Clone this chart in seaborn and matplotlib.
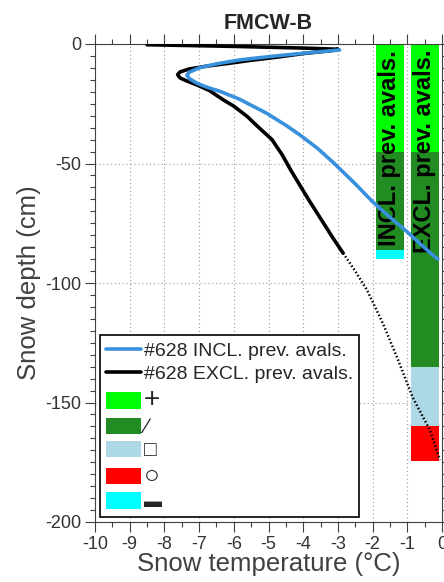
import numpy as np
import pandas as pd
import matplotlib
matplotlib.use("Agg")
import matplotlib.pyplot as plt
from matplotlib.ticker import MultipleLocator
from matplotlib.lines import Line2D
from matplotlib.patches import Patch
import seaborn as sns

# Snow temperature profiles (#628)
temp_incl = [-2.95, -3.8, -4.8, -5.8, -6.5, -7.0, -7.28, -7.35, -7.28, -7.05, -6.75, -6.4,
             -5.85, -5.05, -4.5, -4.1, -3.6, -3.14, -2.5, -2.0, -1.5, -1.05, -0.6, -0.25, -0.12]
depth_incl = [-2.5, -3.6, -5.0, -6.6, -8.3, -10.0, -11.8, -13.0, -14.5, -16.5, -18.2, -19.8,
              -23.0, -29.0, -34.0, -38.0, -43.5, -49.5, -58.5, -66.0, -72.5, -78.0, -84.0, -88.5, -90.0]

temp_excl = [-8.5, -6.0, -4.0, -3.0, -3.2, -4.0, -4.7, -5.5, -6.1, -6.8, -7.3, -7.55, -7.62,
             -7.55, -7.35, -7.05, -6.7, -6.3, -6.0, -5.6, -5.35, -4.9, -4.6, -4.35, -4.1,
             -3.85, -3.5, -3.15, -2.85]
depth_excl = [-0.3, -1.0, -1.7, -2.2, -2.8, -4.0, -5.4, -6.8, -8.0, -9.3, -10.5, -11.7, -12.8,
              -14.2, -15.5, -17.2, -19.5, -23.4, -26.0, -30.5, -34.0, -40.0, -46.5, -53.0, -59.0,
              -65.0, -73.0, -81.0, -87.5]

# dotted continuation of the EXCL profile
temp_extra = [-2.85, -2.5, -2.16, -1.7, -1.3, -0.84, -0.35, -0.06]
depth_extra = [-87.5, -95.0, -103.0, -117.0, -131.0, -148.0, -161.5, -174.0]

# layer columns
col_names = ["INCL. prev. avals.", "EXCL. prev. avals."]
col_x = [-1.5, -0.5]
incl_bounds = [0, -45, -86, -90]
incl_colors = ["#00FF00", "#228B22", "#00FFFF"]
excl_bounds = [0, -45, -135, -160, -174.5]
excl_colors = ["#00FF00", "#228B22", "#ADD8E6", "#FF0000"]

legend_colors = ["#00FF00", "#228B22", "#ADD8E6", "#FF0000", "#00FFFF"]
legend_symbols = ["+", "\u2215", "\u25A1", "\u25CB", "\u25AC"]
symbol_sizes = [20, 15, 15, 19, 13]

BLUE = "#3990DD"

sns.set_theme(style="ticks")
plt.rcParams["font.family"] = ["Liberation Sans", "DejaVu Sans"]
plt.rcParams["axes.unicode_minus"] = False

fig = plt.figure(figsize=(4.44, 5.82), dpi=100)
ax = fig.add_axes([95 / 444, 60 / 582, 347 / 444, 478 / 582])

# stacked layer bars
for x, bounds, colors in [(col_x[0], incl_bounds, incl_colors), (col_x[1], excl_bounds, excl_colors)]:
    tops = np.array(bounds[:-1])
    bots = np.array(bounds[1:])
    ax.bar([x] * len(tops), bots - tops, bottom=tops, width=0.8, color=colors,
           edgecolor="none", zorder=2)

for x, name in zip(col_x, col_names):
    ax.text(x, -2.5, name, rotation=90, ha="center", va="top", fontsize=17,
            fontweight="bold", color="black", zorder=3)

df_incl = pd.DataFrame({"temp": temp_incl, "depth": depth_incl})
df_excl = pd.DataFrame({"temp": temp_excl, "depth": depth_excl})
df_extra = pd.DataFrame({"temp": temp_extra, "depth": depth_extra})

sns.lineplot(data=df_extra, x="temp", y="depth", sort=False, estimator=None, ax=ax,
             color="black", lw=1.8, linestyle=(0, (0.6, 0.9)), zorder=4, legend=False)
sns.lineplot(data=df_excl, x="temp", y="depth", sort=False, estimator=None, ax=ax,
             color="black", lw=2.6, zorder=4, legend=False)
sns.lineplot(data=df_incl, x="temp", y="depth", sort=False, estimator=None, ax=ax,
             color=BLUE, lw=2.6, zorder=5, legend=False)

ax.set_xlim(-10, 0)
ax.set_ylim(-200, 0)
ax.xaxis.set_major_locator(MultipleLocator(1))
ax.xaxis.set_minor_locator(MultipleLocator(0.5))
ax.yaxis.set_major_locator(MultipleLocator(50))
ax.yaxis.set_minor_locator(MultipleLocator(5))
ax.tick_params(which="both", direction="out", left=True, bottom=True, top=True, right=True,
               color="#404040", labelcolor="#333333", labelsize=13)
ax.tick_params(which="major", length=7, width=0.8, pad=3)
ax.tick_params(which="minor", length=3.5, width=0.8)
ax.set_axisbelow(True)
ax.grid(which="major", linestyle=(0, (1, 2.5)), color="#999999", lw=0.8)
for s in ax.spines.values():
    s.set_color("#404040")
    s.set_linewidth(0.8)

ax.set_xlabel("Snow temperature (\u00b0C)", fontsize=18.5, color="#404040", labelpad=-1)
ax.set_ylabel("Snow depth (cm)", fontsize=18.5, color="#404040", labelpad=3)
ax.set_title("FMCW-B", fontsize=15.5, fontweight="bold", y=1.031, pad=0)

handles = [Line2D([], [], color=BLUE, lw=2.6), Line2D([], [], color="black", lw=2.6)]
handles += [Patch(facecolor=c, edgecolor="none") for c in legend_colors]
labels = ["#628 INCL. prev. avals.", "#628 EXCL. prev. avals."] + legend_symbols
leg = ax.legend(handles, labels, loc="lower left", bbox_to_anchor=(0.0144, 0.0105),
                borderaxespad=0, fontsize=14, handlelength=1.8, handleheight=0.9,
                handletextpad=0.15, labelspacing=0.22, borderpad=0.3, fancybox=False,
                framealpha=1, edgecolor="black")
leg.get_frame().set_linewidth(1.2)
leg.set_zorder(6)
for t, size in zip(leg.get_texts()[2:], symbol_sizes):
    t.set_fontsize(size)

fig.savefig("out.png", dpi=100)
